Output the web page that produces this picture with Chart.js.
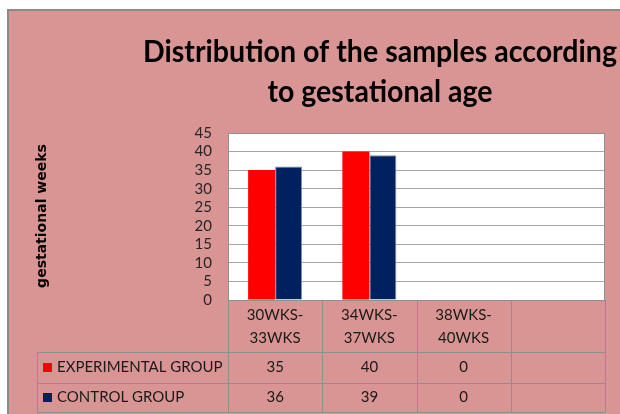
<!DOCTYPE html>
<html>
<head>
<meta charset="utf-8">
<script src="https://cdn.jsdelivr.net/npm/chart.js@4"></script>
<style>
  html, body { margin: 0; padding: 0; background: #fff; }
  #wrap { width: 620px; height: 414px; }
</style>
</head>
<body>
<div id="wrap"><canvas id="chart" width="620" height="414"></canvas></div>
<script>
const titleLines = ['Distribution of the samples according', 'to gestational age'];
const yTitle = 'gestational weeks';
const categories = [['30WKS-', '33WKS'], ['34WKS-', '37WKS'], ['38WKS-', '40WKS'], ''];
const seriesNames = ['EXPERIMENTAL GROUP', 'CONTROL GROUP'];
const experimental = [35, 40, 0, null];
const control = [36, 39, 0, null];
const yTicks = [0, 5, 10, 15, 20, 25, 30, 35, 40, 45];

const pink = '#d99594';
const lineGray = '#8f8f8f';
const colors = ['#ff0000', '#002060'];
const series = [experimental, control];
const bodyFont = '15px Lato, "Liberation Sans", sans-serif';

// background, title, plot frame, y title and the data table underneath
const tablePlugin = {
  id: 'tablePlugin',
  beforeDraw(chart) {
    const ctx = chart.ctx;
    ctx.save();
    ctx.fillStyle = '#fff';
    ctx.fillRect(0, 0, chart.width, chart.height);
    ctx.fillStyle = pink;
    ctx.fillRect(8, 10, chart.width - 8, chart.height - 10);
    ctx.strokeStyle = '#8a8a8a';
    ctx.lineWidth = 2;
    ctx.beginPath();
    ctx.moveTo(8, chart.height);
    ctx.lineTo(8, 10);
    ctx.lineTo(chart.width, 10);
    ctx.stroke();
    const a = chart.chartArea;
    ctx.fillStyle = '#fff';
    ctx.fillRect(a.left, a.top, a.right - a.left, a.bottom - a.top);

    // title (Calibri-like: squeeze to the reference widths)
    ctx.fillStyle = '#000';
    ctx.font = 'bold 30px Lato, "DejaVu Sans", sans-serif';
    ctx.textAlign = 'center';
    ctx.textBaseline = 'alphabetic';
    ctx.fillText(titleLines[0], 380, 62, 474);
    ctx.fillText(titleLines[1], 380, 102, 225);
    ctx.restore();
  },
  afterDraw(chart) {
    const ctx = chart.ctx;
    const a = chart.chartArea;
    const x = chart.scales.x;
    ctx.save();
    // plot frame
    ctx.strokeStyle = lineGray;
    ctx.lineWidth = 1;
    ctx.strokeRect(a.left + 0.5, a.top + 0.5, a.right - a.left - 1, a.bottom - a.top);

    // y axis title
    ctx.save();
    ctx.translate(42, 216);
    ctx.rotate(-Math.PI / 2);
    ctx.fillStyle = '#000';
    ctx.font = 'bold 14px "DejaVu Sans"';
    ctx.textAlign = 'center';
    ctx.textBaseline = 'middle';
    ctx.fillText(yTitle, 0, 0);
    ctx.restore();

    // table
    const colW = (a.right - a.left) / categories.length;
    const rowTops = [a.bottom, a.bottom + 52, a.bottom + 83, a.bottom + 112];
    const legendLeft = 37;
    ctx.strokeStyle = lineGray;
    ctx.lineWidth = 1;
    ctx.beginPath();
    for (let i = 0; i <= categories.length; i++) {
      const px = Math.round(a.left + i * colW) + 0.5;
      ctx.moveTo(px, a.bottom);
      ctx.lineTo(px, rowTops[3]);
    }
    ctx.moveTo(legendLeft + 0.5, rowTops[1]);
    ctx.lineTo(legendLeft + 0.5, rowTops[3]);
    for (let r = 1; r <= 3; r++) {
      ctx.moveTo(legendLeft, Math.round(rowTops[r]) + 0.5);
      ctx.lineTo(a.right, Math.round(rowTops[r]) + 0.5);
    }
    ctx.stroke();

    ctx.fillStyle = '#1a1a1a';
    ctx.font = bodyFont;
    ctx.textAlign = 'center';
    ctx.textBaseline = 'middle';
    categories.forEach((c, i) => {
      const cx = x.getPixelForValue(i);
      const lines = Array.isArray(c) ? c : [c];
      lines.forEach((l, k) => ctx.fillText(l, cx, a.bottom + 15 + k * 23));
      series.forEach((s, r) => {
        if (s[i] !== null) ctx.fillText(String(s[i]), cx, (rowTops[r + 1] + rowTops[r + 2]) / 2);
      });
    });
    ctx.textAlign = 'left';
    seriesNames.forEach((n, r) => {
      const cy = (rowTops[r + 1] + rowTops[r + 2]) / 2;
      ctx.fillStyle = colors[r];
      ctx.fillRect(43, cy - 4.5, 9, 9);
      ctx.fillStyle = '#1a1a1a';
      ctx.fillText(n, 57, cy);
    });
    ctx.restore();
  }
};

new Chart(document.getElementById('chart'), {
  type: 'bar',
  data: {
    labels: categories,
    datasets: seriesNames.map((n, i) => ({
      label: n,
      data: series[i],
      backgroundColor: colors[i],
      borderColor: i === 1 ? '#7f8ea8' : colors[i],
      borderWidth: i === 1 ? 1 : 0,
      categoryPercentage: 0.573,
      barPercentage: 1
    }))
  },
  options: {
    responsive: false,
    animation: false,
    layout: { padding: { left: 155, right: 15, top: 133, bottom: 114 } },
    plugins: {
      legend: { display: false },
      tooltip: { enabled: false },
      title: { display: false }
    },
    scales: {
      x: { display: false },
      y: {
        min: 0,
        max: 45,
        afterFit(scale) { scale.width = 73; },
        afterBuildTicks(scale) { scale.ticks = yTicks.map(v => ({ value: v })); },
        border: { display: false },
        grid: { color: '#a6a6a6', drawTicks: false },
        ticks: {
          autoSkip: false,
          padding: 16,
          color: '#262626',
          font: { family: 'Lato, "Liberation Sans", sans-serif', size: 15 }
        }
      }
    }
  },
  plugins: [tablePlugin]
});
</script>
</body>
</html>
